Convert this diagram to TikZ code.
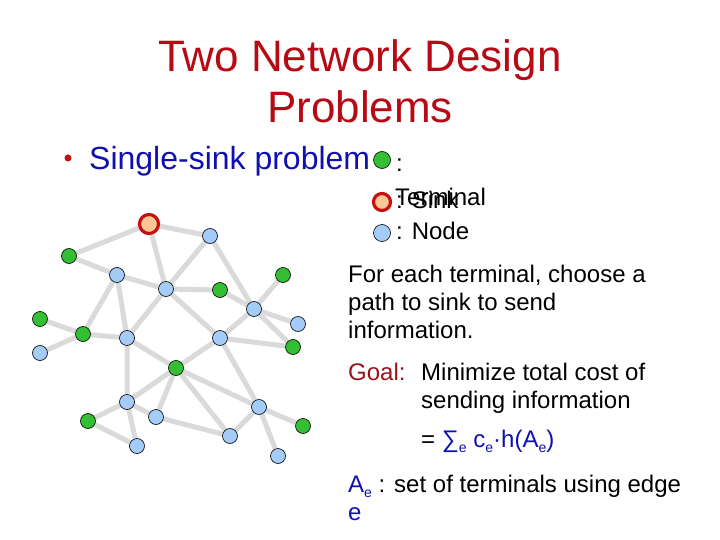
\documentclass[tikz,border=0pt]{standalone}
\usepackage{fontspec}
\setmainfont{Liberation Sans}
\usepackage{tikz}
\usetikzlibrary{backgrounds}

\definecolor{titlered}{RGB}{184,10,20}
\definecolor{goalred}{RGB}{150,20,24}
\definecolor{textblue}{RGB}{16,16,176}
\definecolor{termgreen}{RGB}{52,190,52}
\definecolor{nodeblue}{RGB}{164,204,248}
\definecolor{sinkfill}{RGB}{252,198,150}
\definecolor{sinkring}{RGB}{196,16,16}
\definecolor{edgegray}{RGB}{218,218,218}

\newcommand{\sube}{\raisebox{-.45ex}{\fontsize{14}{14}\selectfont e}}

\tikzset{
  edge/.style={draw=edgegray, line width=5pt},
  terminal/.style={circle, draw=black, line width=0.6pt, fill=termgreen, minimum size=15pt, inner sep=0pt},
  plain/.style={circle, draw=black, line width=0.6pt, fill=nodeblue, minimum size=15pt, inner sep=0pt},
  sinknode/.style={circle, draw=sinkring, line width=3.2pt, fill=sinkfill, minimum size=19pt, inner sep=0pt},
  txt/.style={anchor=base west, inner sep=0pt, font=\fontsize{24}{28}\selectfont}
}

\begin{document}
\begin{tikzpicture}[x=1pt, y=-1pt]
  \useasboundingbox (0,0) rectangle (720,540);

  % title
  \node[anchor=base, inner sep=0pt, text=titlered, font=\fontsize{44}{50}\selectfont] (title1) at (360,72) {Two Network Design};
  \node[anchor=base, inner sep=0pt, text=titlered, font=\fontsize{44}{50}\selectfont] (title2) at (360,123) {Problems};

  % bullet
  \node[circle, fill=sinkring, minimum size=7pt, inner sep=0pt] (bullet) at (68,158) {};
  \node[anchor=base west, inner sep=0pt, text=textblue, font=\fontsize{32}{36}\selectfont] (single) at (89,170) {Single-sink problem};

  % legend
  \node[terminal, minimum size=17pt] (legterm) at (382,160) {};
  \node[sinknode, minimum size=17pt] (legsink) at (382,202) {};
  \node[plain, minimum size=17pt] (legnode) at (382,233) {};
  \node[txt] (colon) at (396,172) {:};
  \node[txt] (termtxt) at (395,206) {Terminal};
  \node[txt] (sinktxt) at (396,208) {: Sink};
  \node[txt] (nodetxt) at (396,240) {: Node};

  % network
  \node[sinknode] (s) at (149,224) {};
  \node[plain] (b1) at (210,236) {};
  \node[terminal] (g1) at (69,256) {};
  \node[plain] (b2) at (117,275) {};
  \node[plain] (b3) at (166,289) {};
  \node[terminal] (g2) at (220,290) {};
  \node[terminal] (g3) at (283,275) {};
  \node[plain] (b4) at (254,309) {};
  \node[terminal] (g4) at (40,319) {};
  \node[terminal] (g5) at (83,334) {};
  \node[plain] (b5) at (127,338) {};
  \node[plain] (b6) at (298,324) {};
  \node[plain] (b7) at (220,338) {};
  \node[terminal] (g6) at (293,347) {};
  \node[plain] (b8) at (40,353) {};
  \node[terminal] (g7) at (176,368) {};
  \node[plain] (b9) at (127,402) {};
  \node[plain] (b10) at (259,407) {};
  \node[plain] (b11) at (156,417) {};
  \node[terminal] (g8) at (88,421) {};
  \node[terminal] (g9) at (303,426) {};
  \node[plain] (b12) at (230,436) {};
  \node[plain] (b13) at (137,446) {};
  \node[plain] (b14) at (278,456) {};

  % edges, behind the nodes
  \begin{pgfonlayer}{background}
    \fill[white] (0,0) rectangle (720,540);
    \path[edge] (s) -- (g1) (s) -- (b1) (s) -- (b3)
      (g1) -- (b2) (b2) -- (b3) (b3) -- (g2) (b1) -- (b3) (b1) -- (b4)
      (g2) -- (b4) (g3) -- (b4) (b4) -- (b6) (b4) -- (g6) (b4) -- (b7)
      (b3) -- (b7) (b3) -- (b5) (b2) -- (g5) (b2) -- (b5)
      (g4) -- (g5) (g5) -- (b8) (g5) -- (b5) (b5) -- (g7) (b5) -- (b9)
      (b7) -- (g7) (b7) -- (g6) (b7) -- (b10)
      (g7) -- (b9) (g7) -- (b11) (g7) -- (b12) (g7) -- (b10)
      (b9) -- (b11) (b11) -- (b12) (b12) -- (b10) (b10) -- (g9) (b10) -- (b14)
      (g8) -- (b9) (g8) -- (b13) (b9) -- (b13);
  \end{pgfonlayer}

  % text on the right
  \node[txt] (para1) at (348,282) {For each terminal, choose a};
  \node[txt] (para2) at (348,310) {path to sink to send};
  \node[txt] (para3) at (348,338) {information.};
  \node[txt, text=goalred] (goal) at (348,380) {Goal:};
  \node[txt] (goal1) at (421,380) {Minimize total cost of};
  \node[txt] (goal2) at (421,408) {sending information};
  \node[txt] (formula) at (421,447) {= \textcolor{textblue}{∑\sube{} c\sube·h(A\sube)}};
  \node[txt] (aedef) at (348,492) {\textcolor{textblue}{A\sube} : set of terminals using edge};
  \node[txt, text=textblue] (aedef2) at (348,520) {e};
\end{tikzpicture}
\end{document}
